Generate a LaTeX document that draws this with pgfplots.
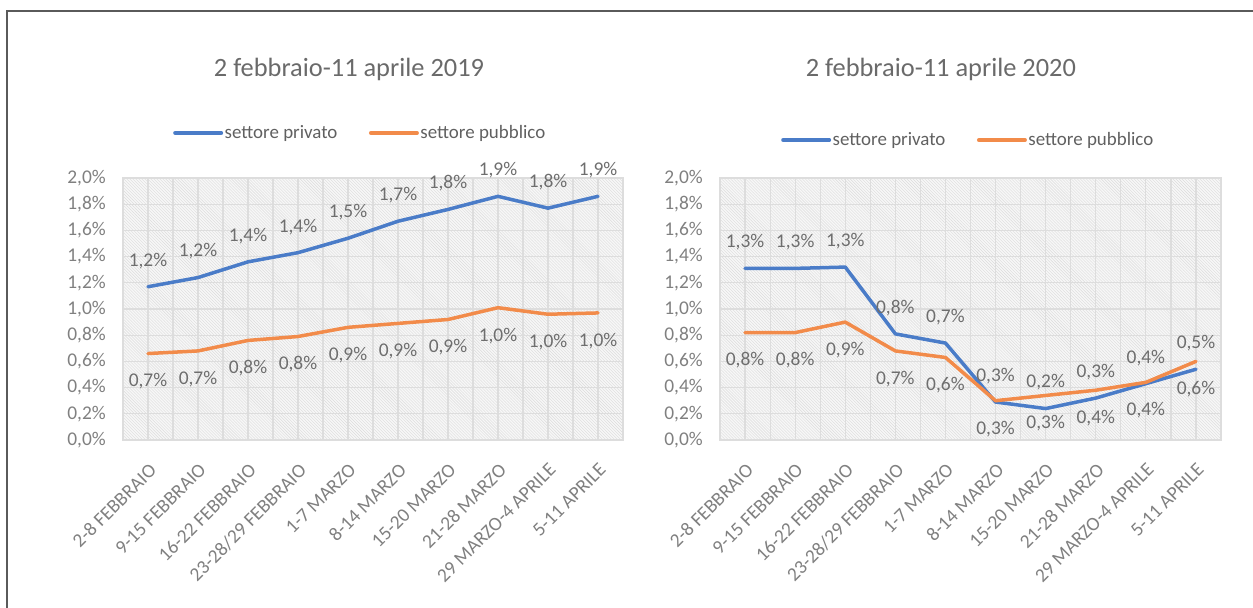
\documentclass[border=0pt]{standalone}
\usepackage{fontspec}
\setmainfont{Carlito}
\usepackage{pgfplots}
\usepackage{pgfplotstable}
\pgfplotsset{compat=1.18}
\usetikzlibrary{patterns}

\definecolor{privato}{HTML}{4A7CC8}
\definecolor{pubblico}{HTML}{F28B4A}
\definecolor{txt}{HTML}{808080}
\definecolor{lbl}{HTML}{6E6E6E}
\definecolor{leg}{HTML}{606060}
\definecolor{ttl}{HTML}{6A6A6A}
\definecolor{gridc}{HTML}{DDDDDD}
\definecolor{framec}{HTML}{5A5A5A}

% weekly rates, 2019 and 2020 (percent)
\pgfplotstableread{
x priv pubb
0 1.17 0.66
1 1.24 0.68
2 1.36 0.76
3 1.43 0.79
4 1.54 0.86
5 1.67 0.89
6 1.76 0.92
7 1.86 1.01
8 1.77 0.96
9 1.86 0.97
}\datiA

\pgfplotstableread{
x priv pubb
0 1.31 0.82
1 1.31 0.82
2 1.32 0.90
3 0.81 0.68
4 0.74 0.63
5 0.29 0.30
6 0.24 0.34
7 0.32 0.38
8 0.43 0.44
9 0.54 0.60
}\datiB

\newcommand{\pct}[1]{\pgfmathprintnumber[fixed,fixed zerofill,precision=1,use comma,assume math mode=true]{#1}\%}

\pgfplotsset{
  panel/.style={
    scale only axis, width=500bp, height=262bp,
    anchor=north west,
    xmin=-0.5, xmax=9.5, ymin=0, ymax=2,
    xtick={0,...,9},
    minor xtick={-0.5,0.5,1.5,2.5,3.5,4.5,5.5,6.5,7.5,8.5,9.5},
    ytick={0,0.2,0.4,0.6,0.8,1,1.2,1.4,1.6,1.8,2},
    xticklabels={2-8 FEBBRAIO,9-15 FEBBRAIO,16-22 FEBBRAIO,23-28/29 FEBBRAIO,1-7 MARZO,8-14 MARZO,15-20 MARZO,21-28 MARZO,29 MARZO-4 APRILE,5-11 APRILE},
    yticklabel={\pct{\tick}},
    xmajorgrids, xminorgrids, ymajorgrids,
    grid style={gridc, line width=1.2bp},
    minor grid style={gridc, line width=1.2bp},
    major tick length=0pt, minor tick length=0pt,
    axis line style={gridc, line width=1.2bp},
    axis background/.style={fill=black!3, postaction={pattern=north west lines, pattern color=black!14}},
    tick label style={font=\fontsize{19.5}{22}\selectfont, text=txt},
    xticklabel style={rotate=45, anchor=north east, inner sep=0pt},
    xticklabel shift=22bp,
    yticklabel style={inner sep=0pt},
    yticklabel shift=17bp,
    title style={font=\fontsize{26.5}{30}\selectfont, text=ttl, anchor=center},
    legend columns=2,
    legend style={draw=none, fill=none, anchor=center,
      font=\fontsize{19}{22}\selectfont, text=leg,
      nodes={inner sep=1.5bp},
      /tikz/every even column/.append style={column sep=30bp}},
    legend image code/.code={\draw[#1, line width=4bp] (0bp,0bp) -- (46bp,0bp);},
    every axis plot/.append style={line width=3.5bp, line join=round, line cap=round},
  },
  sopra/.style={nodes near coords={\pct{\pgfplotspointmeta}},
    every node near coord/.append style={anchor=center, yshift=26bp,
      font=\fontsize{19.5}{22}\selectfont, text=lbl}},
  sotto/.style={nodes near coords={\pct{\pgfplotspointmeta}},
    every node near coord/.append style={anchor=center, yshift=-28bp,
      font=\fontsize{19.5}{22}\selectfont, text=lbl}},
}

\begin{document}
\begin{tikzpicture}
\path[use as bounding box] (0bp,0bp) rectangle (1253bp,-608bp);
\draw[framec, line width=1.5bp] (1253bp,-11bp) -- (7bp,-11bp) -- (7bp,-608bp);

\begin{axis}[panel, at={(123bp,-178bp)},
  title={2 febbraio-11 aprile 2019},
  title style={at={(axis description cs:0.452,1.393)}},
  legend style={at={(axis description cs:0.474,1.172)}}]
\addplot[privato, sopra] table[x=x, y=priv] {\datiA};
\addlegendentry{settore privato}
\addplot[pubblico, sotto] table[x=x, y=pubb] {\datiA};
\addlegendentry{settore pubblico}
\end{axis}

\begin{axis}[panel, at={(720bp,-178bp)}, width=501bp,
  title={2 febbraio-11 aprile 2020},
  title style={at={(axis description cs:0.441,1.393)}},
  legend style={at={(axis description cs:0.495,1.145)}}]
\addplot[privato, sopra] table[x=x, y=priv] {\datiB};
\addlegendentry{settore privato}
\addplot[pubblico, sotto] table[x=x, y=pubb] {\datiB};
\addlegendentry{settore pubblico}
\end{axis}
\end{tikzpicture}
\end{document}
